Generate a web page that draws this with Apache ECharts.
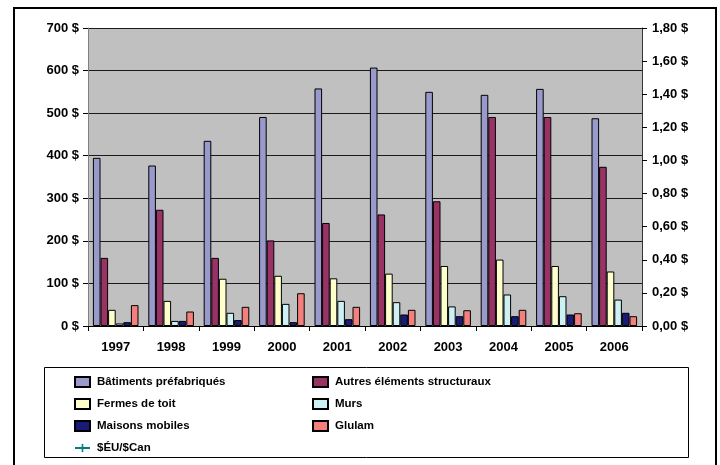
<!DOCTYPE html>
<html>
<head>
<meta charset="utf-8">
<script src="https://cdn.jsdelivr.net/npm/echarts@6/dist/echarts.min.js"></script>
<style>
  html, body { margin: 0; padding: 0; background: #fff; }
  #chart { width: 720px; height: 465px; }
</style>
</head>
<body>
<div id="chart"></div>
<script>
// Années
var annees = ['1997', '1998', '1999', '2000', '2001', '2002', '2003', '2004', '2005', '2006'];

// Valeurs des exportations (M$) par catégorie
var batimentsPrefab = [395, 377, 435, 491, 558, 607, 550, 543, 557, 488];
var autresElements  = [160, 273, 160, 201, 242, 262, 293, 491, 491, 374];
var fermesToit      = [38, 59, 111, 118, 112, 123, 141, 156, 141, 128];
var murs            = [6, 12, 31, 52, 59, 56, 46, 74, 70, 62];
var maisonsMobiles  = [9, 12, 14, 9, 16, 27, 23, 23, 27, 31];
var glulam          = [49, 34, 45, 77, 45, 38, 37, 38, 30, 23];

// Taux de change $ÉU/$Can (axe de droite) — aucune valeur tracée
var tauxChange = [];

var police = '"Liberation Sans", Arial, sans-serif';

function barre(nom, valeurs, couleur) {
  return {
    name: nom,
    type: 'bar',
    data: valeurs,
    barWidth: 7.6,
    barGap: '0%',
    itemStyle: { color: couleur, borderColor: '#000', borderWidth: 1 }
  };
}

var chart = echarts.init(document.getElementById('chart'));
var legendeTexte = { color: '#000', fontFamily: police, fontWeight: 'bold', fontSize: 11.5, padding: [0, 0, 0, 2] };

function legendeItems(noms) {
  return noms.map(function (n) {
    return n === '$ÉU/$Can' ? { name: n } : { name: n, icon: 'rect' };
  });
}

chart.setOption({
  animation: false,
  backgroundColor: '#fff',
  textStyle: { fontFamily: police },
  grid: {
    left: 88, right: 78, top: 28, bottom: 139,
    show: true, backgroundColor: '#C0C0C0', borderWidth: 0
  },
  graphic: [
    { type: 'rect', shape: { x: 14, y: 8, width: 702, height: 480 },
      style: { fill: 'none', stroke: '#000', lineWidth: 2 }, silent: true, z: -1 },
    { type: 'rect', shape: { x: 44.5, y: 367.5, width: 644, height: 90 },
      style: { fill: '#fff', stroke: '#000', lineWidth: 1 }, silent: true, z: 0 }
  ],
  legend: [
    {
      orient: 'vertical', left: 74, top: 376, itemGap: 10, padding: 0,
      itemWidth: 15, itemHeight: 10,
      data: legendeItems(['Bâtiments préfabriqués', 'Fermes de toit', 'Maisons mobiles', '$ÉU/$Can']),
      textStyle: legendeTexte, z: 5
    },
    {
      orient: 'vertical', left: 312, top: 376, itemGap: 10, padding: 0,
      itemWidth: 15, itemHeight: 10,
      data: legendeItems(['Autres éléments structuraux', 'Murs', 'Glulam']),
      textStyle: legendeTexte, z: 5
    }
  ],
  xAxis: {
    type: 'category',
    data: annees,
    axisLine: { lineStyle: { color: '#000', width: 1 } },
    axisTick: { show: true, length: 5, lineStyle: { color: '#000' } },
    axisLabel: { color: '#000', fontWeight: 'bold', fontSize: 13, margin: 15 }
  },
  yAxis: [
    {
      type: 'value', min: 0, max: 700, interval: 100,
      axisLine: { show: true, lineStyle: { color: '#808080', width: 1 } },
      axisTick: { show: true, length: 5, lineStyle: { color: '#000' } },
      axisLabel: { color: '#000', fontWeight: 'bold', fontSize: 13, margin: 9,
        formatter: function (v) { return v + ' $'; } },
      splitLine: { show: true, lineStyle: { color: '#1a1a1a', width: 1 } }
    },
    {
      type: 'value', min: 0, max: 1.8, interval: 0.2, position: 'right',
      axisLine: { show: true, lineStyle: { color: '#333', width: 1 } },
      axisTick: { show: true, length: 5, lineStyle: { color: '#000' } },
      axisLabel: { color: '#000', fontWeight: 'bold', fontSize: 13, margin: 10,
        formatter: function (v) { return v.toFixed(2).replace('.', ',') + ' $'; } },
      splitLine: { show: false }
    }
  ],
  series: [
    barre('Bâtiments préfabriqués', batimentsPrefab, '#9999CC'),
    barre('Autres éléments structuraux', autresElements, '#993366'),
    barre('Fermes de toit', fermesToit, '#FFFFCC'),
    barre('Murs', murs, '#CCF0F4'),
    barre('Maisons mobiles', maisonsMobiles, '#1A1A78'),
    barre('Glulam', glulam, '#F4807E'),
    {
      name: '$ÉU/$Can',
      type: 'line',
      yAxisIndex: 1,
      data: tauxChange,
      symbol: 'path://M4,0H6V10H4Z M0,4H10V6H0Z',
      symbolSize: 7,
      itemStyle: { color: '#008080' },
      lineStyle: { color: '#008080', width: 1 }
    }
  ]
});
</script>
</body>
</html>
